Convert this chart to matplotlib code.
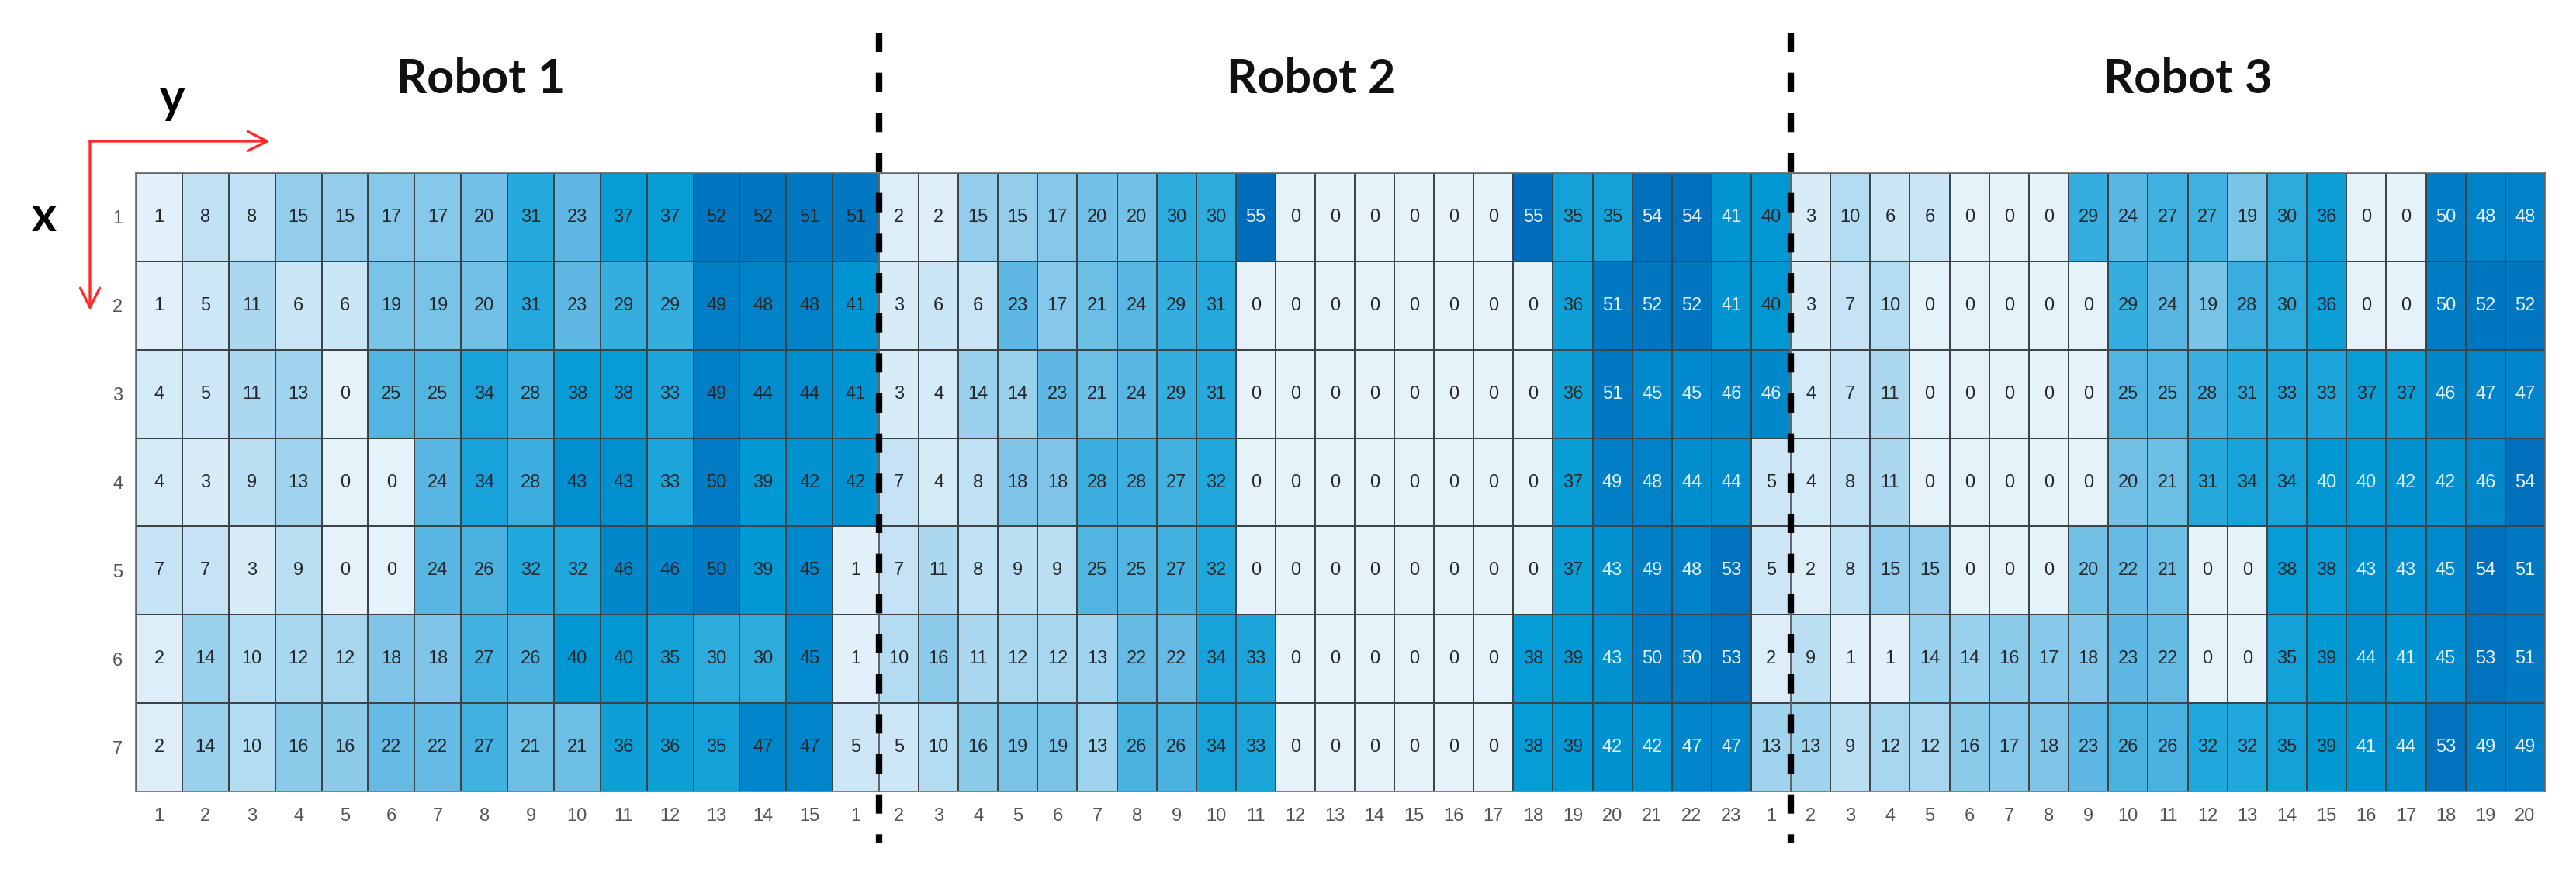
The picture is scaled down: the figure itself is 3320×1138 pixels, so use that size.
import numpy as np
import matplotlib.pyplot as plt
from matplotlib.colors import LinearSegmentedColormap

# cell values, rows x = 1..7
robot1 = [
    [1, 8, 8, 15, 15, 17, 17, 20, 31, 23, 37, 37, 52, 52, 51, 51],
    [1, 5, 11, 6, 6, 19, 19, 20, 31, 23, 29, 29, 49, 48, 48, 41],
    [4, 5, 11, 13, 0, 25, 25, 34, 28, 38, 38, 33, 49, 44, 44, 41],
    [4, 3, 9, 13, 0, 0, 24, 34, 28, 43, 43, 33, 50, 39, 42, 42],
    [7, 7, 3, 9, 0, 0, 24, 26, 32, 32, 46, 46, 50, 39, 45, 1],
    [2, 14, 10, 12, 12, 18, 18, 27, 26, 40, 40, 35, 30, 30, 45, 1],
    [2, 14, 10, 16, 16, 22, 22, 27, 21, 21, 36, 36, 35, 47, 47, 5],
]
robot2 = [
    [2, 2, 15, 15, 17, 20, 20, 30, 30, 55, 0, 0, 0, 0, 0, 0, 55, 35, 35, 54, 54, 41, 40],
    [3, 6, 6, 23, 17, 21, 24, 29, 31, 0, 0, 0, 0, 0, 0, 0, 0, 36, 51, 52, 52, 41, 40],
    [3, 4, 14, 14, 23, 21, 24, 29, 31, 0, 0, 0, 0, 0, 0, 0, 0, 36, 51, 45, 45, 46, 46],
    [7, 4, 8, 18, 18, 28, 28, 27, 32, 0, 0, 0, 0, 0, 0, 0, 0, 37, 49, 48, 44, 44, 5],
    [7, 11, 8, 9, 9, 25, 25, 27, 32, 0, 0, 0, 0, 0, 0, 0, 0, 37, 43, 49, 48, 53, 5],
    [10, 16, 11, 12, 12, 13, 22, 22, 34, 33, 0, 0, 0, 0, 0, 0, 38, 39, 43, 50, 50, 53, 2],
    [5, 10, 16, 19, 19, 13, 26, 26, 34, 33, 0, 0, 0, 0, 0, 0, 38, 39, 42, 42, 47, 47, 13],
]
robot3 = [
    [3, 10, 6, 6, 0, 0, 0, 29, 24, 27, 27, 19, 30, 36, 0, 0, 50, 48, 48],
    [3, 7, 10, 0, 0, 0, 0, 0, 29, 24, 19, 28, 30, 36, 0, 0, 50, 52, 52],
    [4, 7, 11, 0, 0, 0, 0, 0, 25, 25, 28, 31, 33, 33, 37, 37, 46, 47, 47],
    [4, 8, 11, 0, 0, 0, 0, 0, 20, 21, 31, 34, 34, 40, 40, 42, 42, 46, 54],
    [2, 8, 15, 15, 0, 0, 0, 20, 22, 21, 0, 0, 38, 38, 43, 43, 45, 54, 51],
    [9, 1, 1, 14, 14, 16, 17, 18, 23, 22, 0, 0, 35, 39, 44, 41, 45, 53, 51],
    [13, 9, 12, 12, 16, 17, 18, 23, 26, 26, 32, 32, 35, 39, 41, 44, 53, 49, 49],
]
xlabels1 = list(range(1, 16)) + [1]
xlabels2 = list(range(2, 24)) + [1]
xlabels3 = list(range(2, 21))
row_labels = list(range(1, 8))
titles = ["Robot 1", "Robot 2", "Robot 3"]

cmap = LinearSegmentedColormap.from_list(
    "robot_blues",
    ["#e6f2fa", "#c0e1f3", "#8ecbea", "#5cb7e2", "#22a8dc", "#0099d4", "#0085ca", "#006cba"],
)

W, H = 3320, 1138
fig = plt.figure(figsize=(W / 100, H / 100), dpi=100)

top, bottom = 223, 1020
panels = [
    (robot1, xlabels1, 175, 1133, 100),
    (robot2, xlabels2, 1133, 2308, 41),
    (robot3, xlabels3, 2308, 3280, 40),
]

for k, (data, xl, x0, x1, white_from) in enumerate(panels):
    vals = np.array(data)
    ax = fig.add_axes([x0 / W, 1 - bottom / H, (x1 - x0) / W, (bottom - top) / H])
    ax.pcolormesh(vals, cmap=cmap, vmin=0, vmax=55, edgecolors="#3d4448", linewidth=1.4)
    ax.set_xlim(0, vals.shape[1])
    ax.set_ylim(vals.shape[0], 0)
    for i in range(vals.shape[0]):
        for j in range(vals.shape[1]):
            v = vals[i, j]
            ax.text(j + 0.5, i + 0.5, str(v), ha="center", va="center",
                    fontsize=17, family="Liberation Sans",
                    color="#e4f3ff" if v >= white_from else "#25292e")
    ax.set_xticks(np.arange(vals.shape[1]) + 0.5)
    ax.set_xticklabels(xl, fontsize=17, color="#555555", family="Liberation Sans")
    ax.tick_params(axis="x", length=0, pad=15)
    if k == 0:
        ax.set_yticks(np.arange(vals.shape[0]) + 0.5)
        ax.set_yticklabels(row_labels, fontsize=17, color="#555555", family="Liberation Sans")
        ax.tick_params(axis="y", length=0, pad=12)
    else:
        ax.set_yticks([])
    for s in ax.spines.values():
        s.set_color("#6a6a6a")
        s.set_linewidth(1.2)

# overlay in pixel coordinates for titles, arrows and separators
ov = fig.add_axes([0, 0, 1, 1], facecolor="none")
ov.set_xlim(0, W)
ov.set_ylim(H, 0)
ov.axis("off")

title_x = [620, 1690, 2820]
for t, tx in zip(titles, title_x):
    ov.text(tx, 102, t, ha="center", va="center", fontsize=44,
            fontweight="bold", family="Lato", color="#111111")

ov.text(222, 128, "y", ha="center", va="center", fontsize=44, fontweight="bold", family="Lato")
ov.text(57, 280, "x", ha="center", va="center", fontsize=44, fontweight="bold", family="Lato")

arrow = dict(arrowstyle="->", color="#ff2b2b", lw=2.4, mutation_scale=45,
             shrinkA=0, shrinkB=0)
ov.annotate("", xy=(348, 182), xytext=(116, 182), arrowprops=arrow)
ov.annotate("", xy=(116, 400), xytext=(116, 182), arrowprops=arrow)

for dx in [1133, 2308]:
    ov.plot([dx, dx], [42, 1086], color="black", lw=6, linestyle=(0, (3, 3.2)),
            solid_capstyle="butt", dash_capstyle="butt")

fig.savefig("out.png", dpi=100, facecolor="white")
